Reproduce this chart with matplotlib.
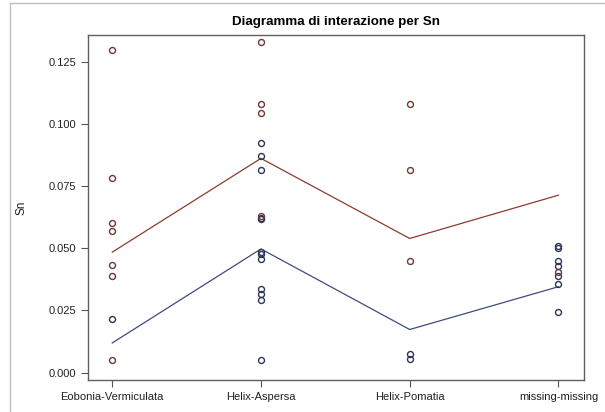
import matplotlib.pyplot as plt
from matplotlib.lines import Line2D

plt.rcParams['font.family'] = ['Liberation Sans', 'DejaVu Sans']

categories = ["Eobonia-Vermiculata", "Helix-Aspersa", "Helix-Pomatia", "missing-missing"]

# medie (linee di interazione)
mean_red = [0.0484, 0.0861, 0.0539, 0.0713]
mean_blue = [0.0119, 0.0497, 0.0173, 0.0345]

# osservazioni per categoria
obs_red = [
    [0.1295, 0.0784, 0.0600, 0.0569, 0.0431, 0.0389, 0.0050],
    [0.1328, 0.1078, 0.1045, 0.0629],
    [0.1080, 0.0813, 0.0448],
    [0.0405],
]
obs_blue = [
    [0.0217],
    [0.0921, 0.0872, 0.0813, 0.0623, 0.0616, 0.0486, 0.0478, 0.0455,
     0.0334, 0.0314, 0.0290, 0.0050],
    [0.0074, 0.0055],
    [0.0509, 0.0499, 0.0448, 0.0428, 0.0388, 0.0356, 0.0244],
]

red = "#8C3B2F"
blue = "#404A80"
red_mk = "#6B3A36"
blue_mk = "#2F3557"

fig = plt.figure(figsize=(6.05, 4.12), dpi=100)
ax = fig.add_axes([88 / 605, 1 - 380 / 412, (584 - 88) / 605, (380 - 35) / 412])

x = list(range(len(categories)))
ax.plot(x, mean_red, color=red, lw=0.9, zorder=2)
ax.plot(x, mean_blue, color=blue, lw=0.9, zorder=2)

for i in x:
    ax.plot([i] * len(obs_blue[i]), obs_blue[i], 'o', ms=4.3, mfc='none',
            mec=blue_mk, mew=1.0, zorder=3)
    ax.plot([i] * len(obs_red[i]), obs_red[i], 'o', ms=4.3, mfc='none',
            mec=red_mk, mew=1.0, zorder=3)

ax.set_xlim(-0.163, 3.172)
ax.set_ylim(-0.003, 0.1357)
ax.set_xticks(x)
ax.set_xticklabels(categories)
ax.set_yticks([0.0, 0.025, 0.05, 0.075, 0.1, 0.125])
ax.set_yticklabels(["0.000", "0.025", "0.050", "0.075", "0.100", "0.125"])
ax.tick_params(labelsize=8, colors="#555555", labelcolor="#222222", length=5, width=0.8)
for s in ax.spines.values():
    s.set_color("#606060")
    s.set_linewidth(1.0)

ax.set_ylabel("Sn", fontsize=8.5, color="#222222", labelpad=15)
ax.set_title("Diagramma di interazione per Sn", fontsize=9.6, fontweight="bold", pad=7)

# cornice esterna
fig.add_artist(Line2D([10 / 605, 10 / 605], [0, 1 - 3 / 412], color="#c0c0c0", lw=1,
                      transform=fig.transFigure))
fig.add_artist(Line2D([10 / 605, 1], [1 - 3 / 412, 1 - 3 / 412], color="#c0c0c0", lw=1,
                      transform=fig.transFigure))

fig.savefig("out.png", dpi=100)
